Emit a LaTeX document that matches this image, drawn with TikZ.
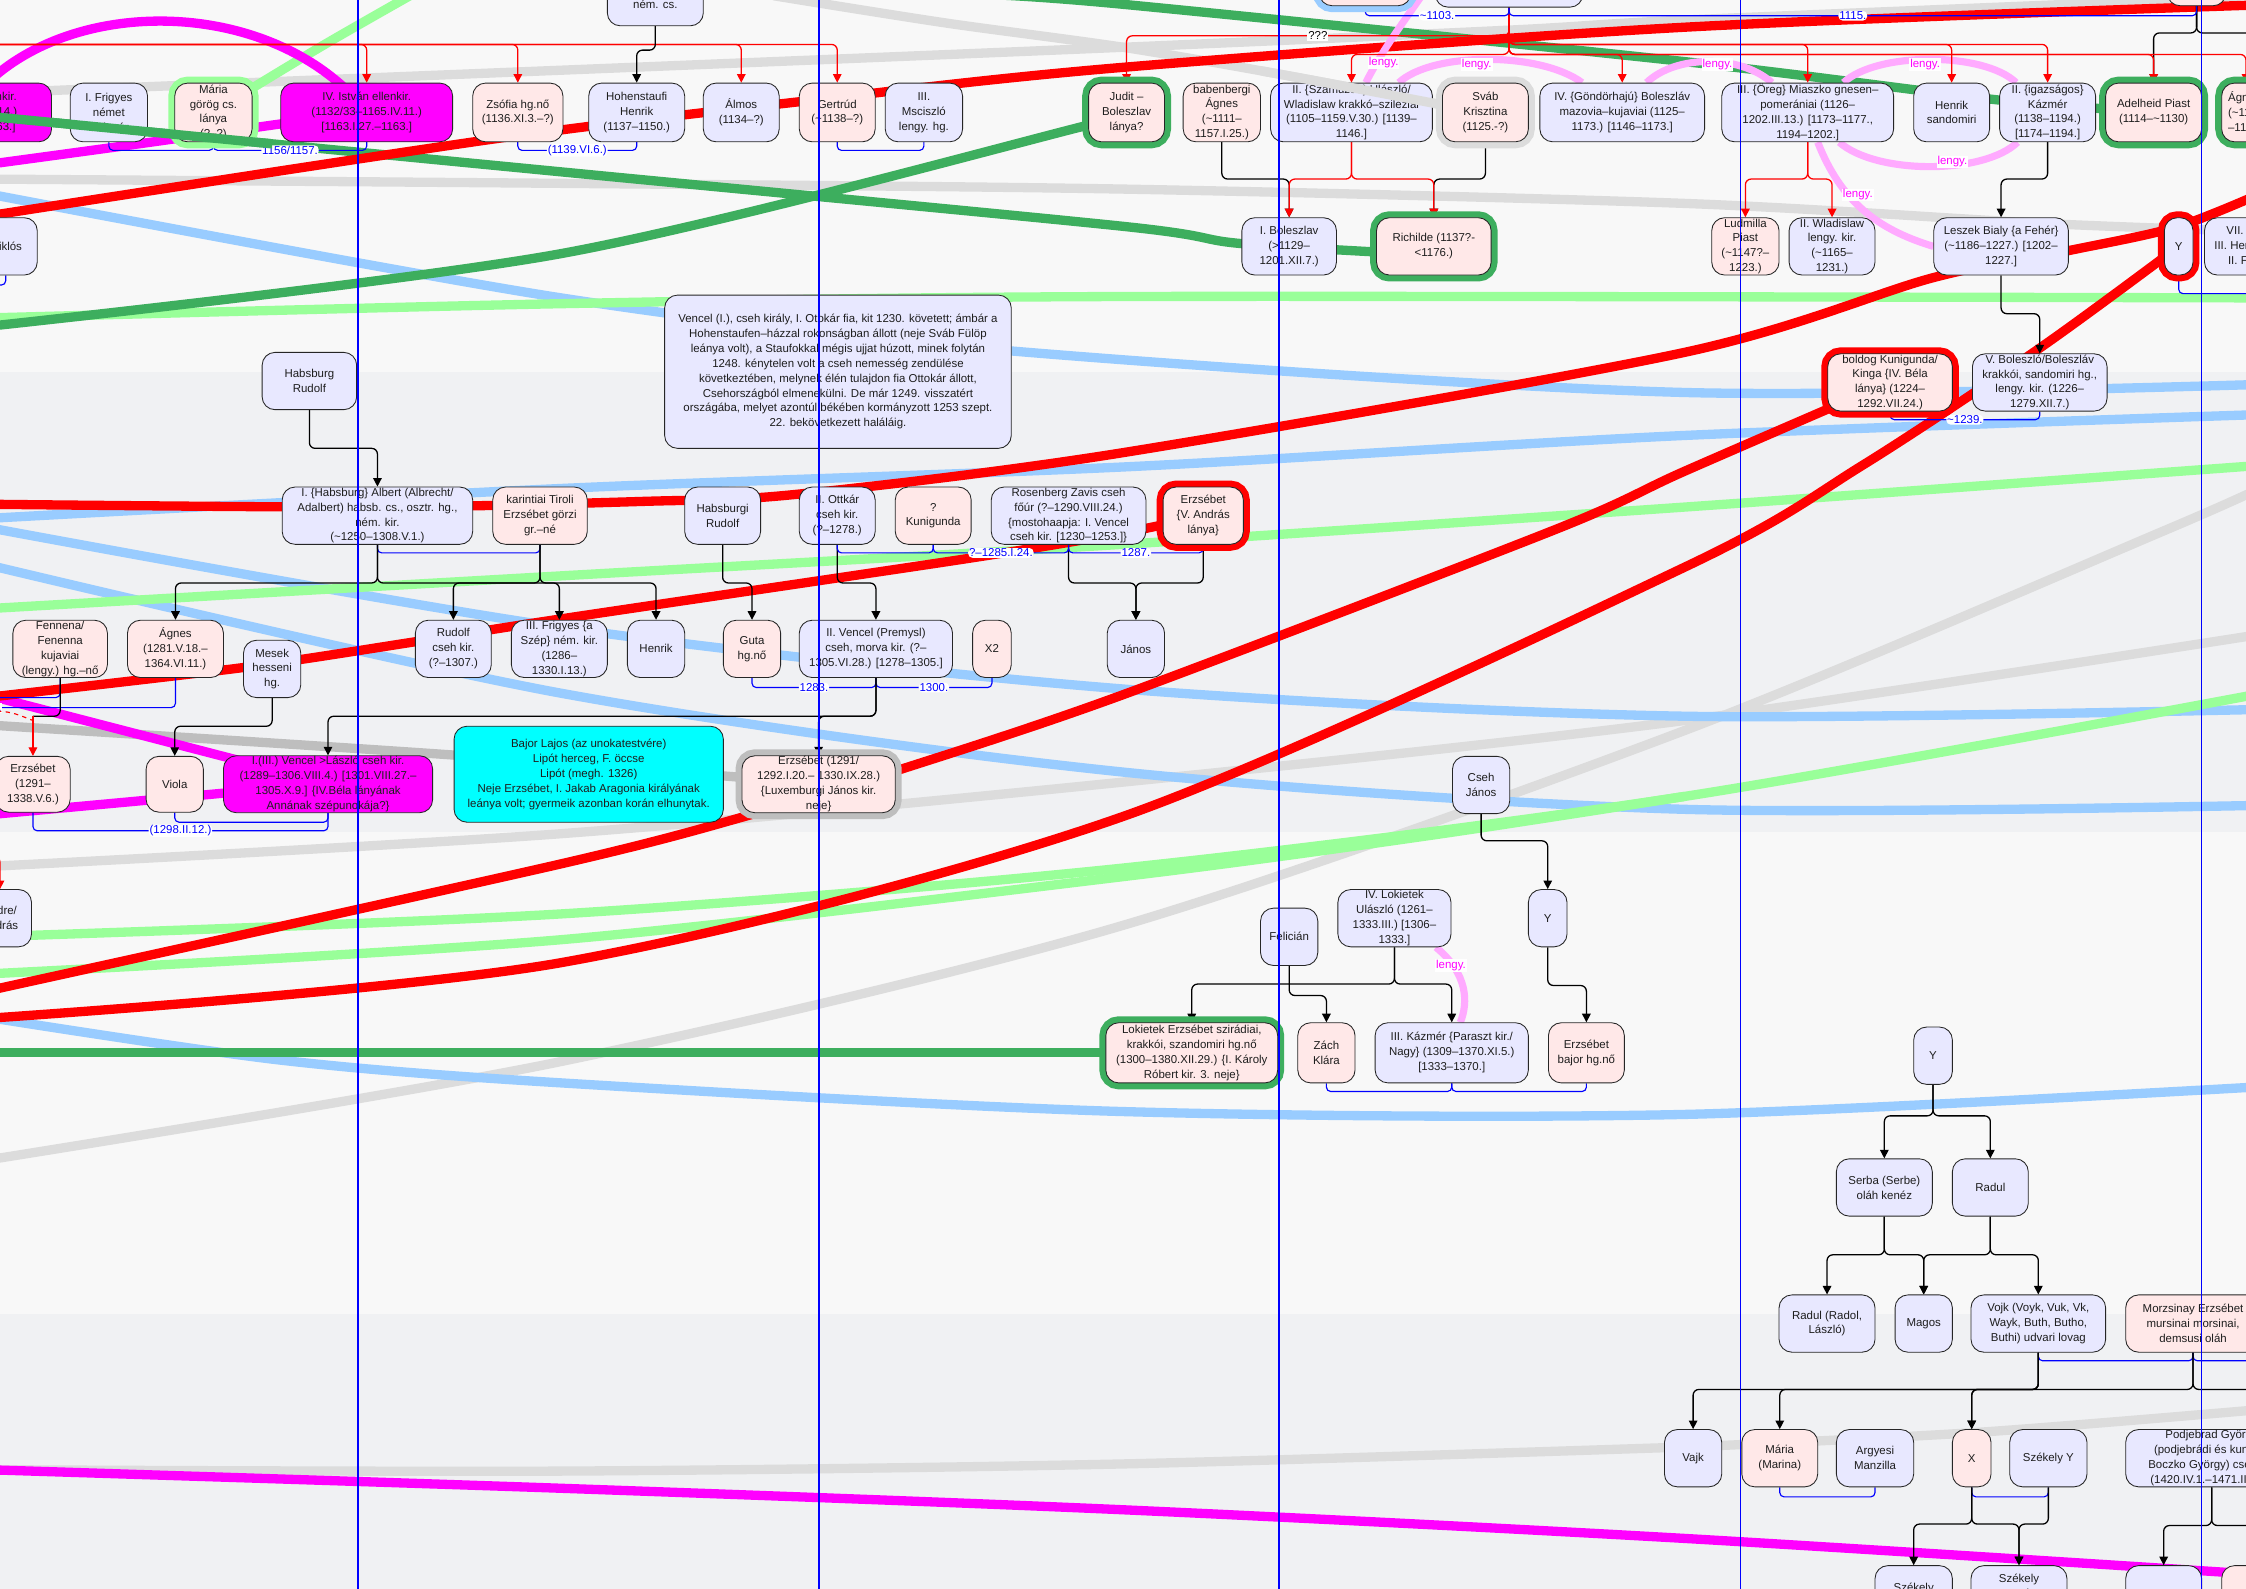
\documentclass[tikz,border=0pt]{standalone}
\usepackage{fontspec}
\setmainfont{Liberation Sans}
\usetikzlibrary{arrows.meta,calc}
\pgfdeclarelayer{bg}\pgfdeclarelayer{thick}\pgfdeclarelayer{conn}\pgfdeclarelayer{top}
\pgfsetlayers{bg,thick,conn,main,top}
\definecolor{lavc}{HTML}{E8E8FF}
\definecolor{pinkc}{HTML}{FFE8E8}
\definecolor{magc}{HTML}{FF00FF}
\definecolor{cyanc}{HTML}{00FFFF}
\definecolor{tgray}{HTML}{DCDCDC}
\definecolor{dgray}{HTML}{BEBEBE}
\definecolor{lblue}{HTML}{99CCFF}
\definecolor{lgreen}{HTML}{99FF99}
\definecolor{dgreen}{HTML}{3DAE5E}
\definecolor{lpink}{HTML}{FFAAFF}
\definecolor{bandA}{HTML}{F8F8F8}
\definecolor{bandB}{HTML}{F0F1F3}
\definecolor{txt}{HTML}{1E1E1E}
\newcommand\tld{\textasciitilde}
\newcommand\gbox[7]{\node[#1, minimum width={(#4)-(#3)}, minimum height={(#6)-(#5)}] (#2) at ({((#3)+(#4))/2},{((#5)+(#6))/2}) {#7};}
\tikzset{
 nd/.style={draw=black!85, line width=0.6pt, rounded corners=9pt, align=center, inner sep=0.5pt, text=txt, font=\fontsize{8}{10.4}\selectfont},
 lav/.style={nd, fill=lavc},
 pnk/.style={nd, fill=pinkc},
 mgt/.style={nd, fill=magc},
 cyn/.style={nd, fill=cyanc},
 hl/.style={preaction={draw=#1, line width=9pt}},
 blk/.style={draw=black, line width=0.9pt, rounded corners=4pt, -{Triangle[length=6pt,width=6pt]}},
 blkn/.style={draw=black, line width=0.9pt, rounded corners=4pt},
 redc/.style={draw=red, line width=0.9pt, rounded corners=4pt, -{Triangle[length=6pt,width=6pt]}},
 marr/.style={draw=blue, line width=0.8pt, rounded corners=3pt},
 lbl/.style={fill=white, text=blue, inner sep=0.6pt, font=\fontsize{8}{9}\selectfont},
 lgl/.style={fill=white, text=magc, inner sep=0.6pt, font=\fontsize{8}{9}\selectfont},
 qlbl/.style={fill=white, text=black, inner sep=0.6pt, font=\fontsize{8}{9}\selectfont},
 tk/.style={line width=6.5pt, line cap=butt},
 pk/.style={draw=lpink, line width=5pt},
 vline/.style={draw=blue, line width=1.2pt},
}
\begin{document}
\begin{tikzpicture}[x=1pt,y=-1pt]
\useasboundingbox (0,0) rectangle (1568,1109);
\begin{pgfonlayer}{bg}
\fill[bandA] (-5,-5) rectangle (1575,260);
\fill[bandB] (-5,260) rectangle (1575,581);
\fill[bandA] (-5,581) rectangle (1575,917);
\fill[bandB] (-5,917) rectangle (1575,1115);
\end{pgfonlayer}

% ---------------- nodes: top partial
\gbox{lav}{nem}{424}{491}{-22}{18}{III. Konrád\\ném. cs.}
\gbox{pnk,hl=lblue}{t1}{921}{985}{-36}{4}{}
\gbox{lav}{t2}{1002}{1105}{-36}{5}{}
\gbox{pnk}{t3}{1513}{1554}{-36}{4}{}
% top row
\gbox{mgt}{l0}{-74}{36}{58}{99}{II. László ellenkir.\\(1131–1163.I.14.)\\{}[1162.VII.–1163.]}
\gbox{lav}{frig}{49}{103}{58}{99}{I. Frigyes\\német\\császár}
\gbox{pnk,hl=lgreen}{mari}{122}{176}{58}{99}{Mária\\görög cs.\\lánya\\(?–?)}
\gbox{mgt}{ist}{196}{316}{58}{99}{IV. István ellenkir.\\(1132/33–1165.IV.11.)\\{}[1163.I.27.–1163.]}
\gbox{pnk}{zso}{330}{393}{58}{99}{Zsófia hg.nő\\(1136.XI.3.–?)}
\gbox{lav}{hhen}{411}{478}{58}{99}{Hohenstaufi\\Henrik\\(1137–1150.)}
\gbox{lav}{alm}{491}{544}{58}{99}{Álmos\\(1134–?)}
\gbox{pnk}{ger}{558}{611}{58}{99}{Gertrúd\\(\tld1138–?)}
\gbox{lav}{msc}{618}{672}{58}{99}{III.\\Msciszló\\lengy. hg.}
\gbox{pnk,hl=dgreen}{jud}{760}{813}{58}{99}{Judit –\\Boleszlav\\lánya?}
\gbox{pnk}{bab}{826}{880}{58}{99}{babenbergi\\Ágnes\\(\tld1111–\\1157.I.25.)}
\gbox{lav}{sza}{887}{1000}{58}{99}{II. \{Szamuzott\} Ulászló/\\Wladislaw krakkó–sziléziai\\(1105–1159.V.30.) [1139–\\1146.]}
\gbox{pnk,hl=tgray}{svab}{1007}{1067}{58}{99}{Sváb\\Krisztina\\(1125.-?)}
\gbox{lav}{gon}{1075}{1190}{58}{99}{IV. \{Göndörhajú\} Boleszláv\\mazovia–kujaviai (1125–\\1173.) [1146–1173.]}
\gbox{lav}{mia}{1202}{1322}{58}{99}{III. \{Öreg\} Miaszko gnesen–\\pomerániai (1126–\\1202.III.13.) [1173–1177.,\\1194–1202.]}
\gbox{lav}{hens}{1336}{1389}{58}{99}{Henrik\\sandomiri}
\gbox{lav}{kaz}{1396}{1463}{58}{99}{II. \{igazságos\}\\Kázmér\\(1138–1194.)\\{}[1174–1194.]}
\gbox{pnk,hl=dgreen}{adel}{1470}{1537}{58}{99}{Adelheid Piast\\(1114–\tld1130)}
\gbox{pnk,hl=dgreen,text width=80pt,align=left}{ag}{1551}{1640}{58}{99}{Ágnes Piast\\(\tld1137–\\–1182.)}
% row 2
\gbox{lav}{mik}{-18}{26}{152}{192}{Miklós}
\gbox{lav}{ibol}{867}{933}{152}{192}{I. Boleszlav\\(>1129–\\1201.XII.7.)}
\gbox{pnk,hl=dgreen}{ric}{961}{1041}{152}{192}{Richilde (1137?-\\<1176.)}
\gbox{pnk}{lud}{1195}{1242}{152}{192}{Ludmilla\\Piast\\(\tld1147?–\\1223.)}
\gbox{lav}{wla}{1249}{1309}{152}{192}{II. Wladislaw\\lengy. kir.\\(\tld1165–\\1231.)}
\gbox{lav}{les}{1350}{1444}{152}{192}{Leszek Bialy \{a Fehér\}\\(\tld1186–1227.) [1202–\\1227.]}
\gbox{lav,hl=red}{yr}{1511}{1531}{152}{192}{Y}
\gbox{lav}{vii}{1539}{1607}{152}{192}{VII. Henrik\\III. Henrik ném.\\II. Frigyes}
% row 3
\gbox{lav}{hru}{183}{249}{246}{286}{Habsburg\\Rudolf}
\gbox{lav}{vtx}{464}{706}{206}{313}{Vencel (I.), cseh király, I. Otokár fia, kit 1230. követett; ámbár a\\Hohenstaufen–házzal rokonságban állott (neje Sváb Fülöp\\leánya volt), a Staufokkal mégis ujjat húzott, minek folytán\\1248. kénytelen volt a cseh nemesség zendülése\\következtében, melynek élén tulajdon fia Ottokár állott,\\Csehországból elmenekülni. De már 1249. visszatért\\országába, melyet azontúl békében kormányzott 1253 szept.\\22. bekövetkezett haláláig.}
\gbox{pnk,hl=red}{kun}{1276}{1363}{247}{287}{boldog Kunigunda/\\Kinga \{IV. Béla\\lánya\} (1224–\\1292.VII.24.)}
\gbox{lav}{vbo}{1377}{1471}{247}{287}{V. Boleszló/Boleszláv\\krakkói, sandomiri hg.,\\lengy. kir. (1226–\\1279.XII.7.)}
% row 4
\gbox{lav}{alb}{197}{330}{340}{380}{I. \{Habsburg\} Albert (Albrecht/\\Adalbert) habsb. cs., osztr. hg.,\\ném. kir.\\(\tld1250–1308.V.1.)}
\gbox{pnk}{kar}{344}{410}{340}{380}{karintiai Tiroli\\Erzsébet görzi\\gr.–né}
\gbox{lav}{hbr}{478}{531}{340}{380}{Habsburgi\\Rudolf}
\gbox{lav}{ott}{558}{611}{340}{380}{II. Ottkár\\cseh kir.\\(?–1278.)}
\gbox{pnk}{kng}{625}{678}{340}{380}{?\\Kunigunda}
\gbox{lav}{ros}{692}{800}{340}{380}{Rosenberg Zavis cseh\\főúr (?–1290.VIII.24.)\\\{mostohaapja: I. Vencel\\cseh kir. [1230–1253.]\}}
\gbox{pnk,hl=red}{eva}{812}{868}{340}{380}{Erzsébet\\\{V. András\\lánya\}}
% row 5
\gbox{pnk}{fen}{9}{75}{433}{473}{Fennena/\\Fenenna\\kujaviai\\(lengy.) hg.–nő}
\gbox{pnk}{agn}{89}{156}{433}{473}{Ágnes\\(1281.V.18.–\\1364.VI.11.)}
\gbox{lav}{mes}{170}{210}{447}{487}{Mesek\\hesseni\\hg.}
\gbox{lav}{rud}{290}{343}{433}{473}{Rudolf\\cseh kir.\\(?–1307.)}
\gbox{lav}{fri}{357}{424}{433}{473}{III. Frigyes \{a\\Szép\} ném. kir.\\(1286–\\1330.I.13.)}
\gbox{lav}{hen}{438}{478}{433}{473}{Henrik}
\gbox{pnk}{gut}{505}{545}{433}{473}{Guta\\hg.nő}
\gbox{lav}{ven}{558}{665}{433}{473}{II. Vencel (Premysl)\\cseh, morva kir. (?–\\1305.VI.28.) [1278–1305.]}
\gbox{pnk}{x2}{679}{706}{433}{473}{X2}
\gbox{lav}{jan}{773}{813}{433}{473}{János}
% row 6
\gbox{pnk}{erz}{-3}{49}{528}{567}{Erzsébet\\(1291–\\1338.V.6.)}
\gbox{pnk}{vio}{102}{142}{528}{567}{Viola}
\gbox{mgt}{vla}{156}{302}{528}{567}{I.(III.) Vencel >László cseh kir.\\(1289–1306.VIII.4.) [1301.VIII.27.–\\1305.X.9.] \{IV.Béla lányának\\Annának szépunokája?\}}
\gbox{cyn}{baj}{317}{505}{507}{574}{Bajor Lajos (az unokatestvére)\\Lipót herceg, F. öccse\\Lipót (megh. 1326)\\Neje Erzsébet, I. Jakab Aragonia királyának\\leánya volt; gyermeik azonban korán elhunytak.}
\gbox{pnk,hl=dgray}{elu}{518}{625}{528}{567}{Erzsébet (1291/\\1292.I.20.– 1330.IX.28.)\\\{Luxemburgi János kir.\\neje\}}
\gbox{lav}{csj}{1014}{1054}{528}{568}{Cseh\\János}
\gbox{lav}{end}{-22}{22}{621}{661}{Endre/\\András}
% row 7
\gbox{lav}{fel}{880}{920}{634}{674}{Felicián}
\gbox{lav}{lok}{934}{1013}{621}{661}{IV. Lokietek\\Ulászló (1261–\\1333.III.) [1306–\\1333.]}
\gbox{lav}{yc}{1067}{1094}{621}{661}{Y}
% row 8
\gbox{pnk,hl=dgreen}{lke}{772}{892}{714}{756}{Lokietek Erzsébet szirádiai,\\krakkói, szandomiri hg.nő\\(1300–1380.XII.29.) \{I. Károly\\Róbert kir. 3. neje\}}
\gbox{pnk}{zak}{906}{946}{714}{756}{Zách\\Klára}
\gbox{lav}{kzm}{960}{1067}{714}{756}{III. Kázmér \{Paraszt kir./\\Nagy\} (1309–1370.XI.5.)\\{}[1333–1370.]}
\gbox{pnk}{ebj}{1081}{1134}{714}{756}{Erzsébet\\bajor hg.nő}
% bottom right
\gbox{lav}{yy}{1336}{1363}{717}{757}{Y}
\gbox{lav}{ser}{1282}{1349}{809}{849}{Serba (Serbe)\\oláh kenéz}
\gbox{lav}{rad}{1363}{1416}{809}{849}{Radul}
\gbox{lav}{rdl}{1242}{1309}{904}{944}{Radul (Radol,\\László)}
\gbox{lav}{magos}{1323}{1363}{904}{944}{Magos}
\gbox{lav}{voj}{1376}{1470}{904}{944}{Vojk (Voyk, Vuk, Vk,\\Wayk, Buth, Butho,\\Buthi) udvari lovag}
\gbox{pnk}{mor}{1484}{1578}{904}{944}{Morzsinay Erzsébet\\mursinai morsinai,\\demsusi oláh}
\gbox{lav}{vaj}{1162}{1202}{998}{1038}{Vajk}
\gbox{pnk}{mri}{1216}{1269}{998}{1038}{Mária\\(Marina)}
\gbox{lav}{arg}{1282}{1336}{998}{1038}{Argyesi\\Manzilla}
\gbox{pnk}{xx}{1363}{1390}{998}{1038}{X}
\gbox{lav}{szy}{1403}{1457}{998}{1038}{Székely Y}
\gbox{lav}{pod}{1484}{1604}{998}{1038}{Podjebrad György\\(podjebrádi és kunstáti\\Boczko György) cseh kir.\\(1420.IV.1.–1471.III.22.)}
\gbox{lav}{sz1}{1309}{1363}{1093}{1133}{Székely\\János}
\gbox{lav}{sz2}{1376}{1443}{1093}{1133}{Székely\\Tamás\\(?)}
\gbox{lav}{vik}{1484}{1537}{1093}{1133}{Viktorin}
\gbox{pnk}{pk2}{1551}{1610}{1093}{1133}{}

% ---------------- thick lines
\begin{pgfonlayer}{thick}
\draw[tk,tgray] plot[smooth] coordinates {(-10,65) (392,49) (784,33) (1054,21) (1176,14) (1514,0) (1600,-6)};
\draw[tk,tgray] plot[smooth] coordinates {(540,-3) (660,16) (784,33) (900,53) (1037,79)};
\draw[tk,tgray] plot[smooth] coordinates {(-10,125) (392,128) (784,132) (1176,142) (1427,156) (1590,162)};
\draw[tk,dgray] plot[smooth] coordinates {(-10,506) (315,527) (571,547)};
\draw[tk,tgray] plot[smooth] coordinates {(-10,605) (392,582) (784,546) (1176,503) (1590,441)};
\draw[tk,tgray] plot[smooth] coordinates {(-10,810) (392,741) (784,646) (1176,510) (1512,370) (1590,335)};
\draw[tk,tgray] plot[smooth] coordinates {(-10,1026) (392,1027) (784,1022) (1182,1010)};
\draw[tk,tgray] plot[smooth] coordinates {(1182,1010) (1380,1000) (1590,983)};
% light blue
\draw[tk,lblue] plot[smooth] coordinates {(-10,135) (392,208) (706,245) (1176,274) (1590,268)};
\draw[tk,lblue] plot[smooth] coordinates {(-10,362) (392,341) (784,326) (1176,304) (1590,289)};
\draw[tk,lblue] plot[smooth] coordinates {(-10,368) (392,438) (784,481) (1176,500) (1590,495)};
\draw[tk,lblue] plot[smooth] coordinates {(-10,394) (392,484) (784,539) (1176,565) (1590,562)};
\draw[tk,lblue] plot[smooth] coordinates {(-10,710) (195,740) (392,756) (784,776) (1176,778) (1590,758)};
% light green
\draw[tk,lgreen] plot[smooth] coordinates {(295,-8) (225,32) (149,78)};
\draw[tk,lgreen] plot[smooth] coordinates {(-10,222) (392,212) (784,207) (1590,208)};
\draw[tk,lgreen] plot[smooth] coordinates {(-10,425) (392,402) (784,380) (1176,354) (1590,324)};
\draw[tk,lgreen] plot[smooth] coordinates {(-10,654) (392,638) (784,606) (1176,556) (1590,482)};
\draw[tk,lgreen] plot[smooth] coordinates {(-10,680) (392,656) (784,612) (1000,583) (1176,556)};
% dark green
\draw[tk,dgreen] plot[smooth] coordinates {(684,-4) (784,3) (1176,43) (1397,70) (1503,78)};
\draw[tk,dgreen] plot[smooth] coordinates {(-10,81) (392,120) (784,158) (866,170) (1001,178)};
\draw[tk,dgreen] plot[smooth] coordinates {(-10,228) (392,177) (757,88) (786,78)};
\draw[tk,dgreen] (-10,735) -- (832,735);
% magenta
\draw[tk,magc] (-20,70) .. controls (40,-5) and (190,-5) .. (256,78);
\draw[tk,magc] plot[smooth] coordinates {(-10,115) (100,100) (256,78)};
\draw[tk,magc] (-10,485) -- (229,547);
\draw[tk,magc] (-10,569) -- (229,547);
\draw[tk,magc] plot[smooth] coordinates {(-10,1026) (392,1039) (784,1054) (1176,1074) (1590,1100)};
% red
\draw[tk,red] plot[smooth] coordinates {(-10,151) (345,97) (567,70) (784,47) (1176,19) (1590,3)};
\draw[tk,red] plot[smooth] coordinates {(-10,352) (263,354) (450,350) (557,345) (784,316) (1176,246) (1349,194) (1444,175) (1521,158) (1590,130)};
\draw[tk,red] plot[smooth] coordinates {(-10,487) (170,466) (290,448) (392,432) (675,390) (784,372) (840,360)};
\draw[tk,red] plot[smooth] coordinates {(-10,692) (392,603) (527,568) (626,538) (784,485) (1085,370) (1176,329) (1319,267)};
\draw[tk,red] plot[smooth] coordinates {(-10,711) (392,672) (784,570) (1176,396) (1300,325) (1424,243) (1521,172)};
% pink "lengy."
\draw[pk] ([xshift=10pt]sza.north) .. controls (965,35) and (980,15) .. (996,-8);
\draw[pk] ([xshift=33pt]sza.north) .. controls (1000,36) and (1075,36) .. ([xshift=-28pt]gon.north);
\draw[pk] ([xshift=17pt]gon.north) .. controls (1170,38) and (1215,38) .. ([xshift=-25pt]mia.north);
\draw[pk] ([xshift=25pt]mia.north) .. controls (1310,36) and (1385,36) .. ([xshift=-22pt]kaz.north);
\draw[pk] ([xshift=22pt]mia.south) .. controls (1310,122) and (1385,122) .. ([xshift=-21pt]kaz.south);
\draw[pk] ([xshift=7pt]mia.south) .. controls (1285,140) and (1310,160) .. (les.west);
\draw[pk] ([xshift=29pt]lok.south) .. controls (1025,680) and (1025,700) .. ([xshift=6pt]kzm.north);
\node[lgl] (lg1) at (966,44) {lengy.};
\node[lgl] (lg2) at (1031,45) {lengy.};
\node[lgl] (lg3) at (1199,45) {lengy.};
\node[lgl] (lg4) at (1344,45) {lengy.};
\node[lgl] (lg5) at (1363,113) {lengy.};
\node[lgl] (lg6) at (1297,136) {lengy.};
\node[lgl] (lg7) at (1013,674) {lengy.};
\end{pgfonlayer}

% ---------------- connectors
\begin{pgfonlayer}{conn}
\coordinate (rA) at (-5,31);
\draw[redc] (rA) -| (ist.north);
\draw[redc] (rA) -| (zso.north);
\draw[redc] (rA) -| (alm.north);
\draw[redc] (rA) -| (ger.north);
\draw[blk] (nem.south) -- (nem.south |- 0,35) -| (hhen.north);
\draw[blk] (t3.south) -- (t3.south |- 0,23) -| (adel.north);
\draw[blkn] (t3.south) -- (t3.south |- 0,23) -- (1580,23);
\draw[redc] (t2.south) |- (jud.north |- 0,25) -- (jud.north);
\node[qlbl] (qm) at (920,25) {???};
\draw[redc] (t2.south) |- (mia.north |- 0,31) -- (mia.north);
\draw[redc] (t2.south) |- (hens.north |- 0,31) -- (hens.north);
\draw[redc] (t2.south) |- (kaz.north |- 0,31) -- (kaz.north);
\draw[redc] (t2.south) |- (sza.north |- 0,38) -- (sza.north);
\draw[redc] (t2.south) |- (gon.north |- 0,38) -- (gon.north);
\draw[redc] (t2.south) |- (adel.north |- 0,38) -- (adel.north);
\draw[redc] (t2.south) |- (1568,38) -- (ag.north -| 1568,0);
\draw[marr] (t1.south) -- (t1.south |- 0,11) -- node[lbl]{\tld1103.} (t2.south |- 0,11) -- (t2.south);
\draw[marr] (t2.south) -- (t2.south |- 0,11) -- node[lbl]{1115.} (t3.south |- 0,11) -- (t3.south);
\draw[marr] (frig.south) -- (frig.south |- 0,105) -- (mari.south |- 0,105) -- (mari.south);
\draw[marr] (mari.south) -- (mari.south |- 0,105) -- node[lbl]{1156/1157.} (ist.south |- 0,105) -- (ist.south);
\draw[marr] (zso.south) -- (zso.south |- 0,105) -- node[lbl]{(1139.VI.6.)} (hhen.south |- 0,105) -- (hhen.south);
\draw[marr] (ger.south) -- (ger.south |- 0,105) -- (msc.south |- 0,105) -- (msc.south);
% row 2
\draw[blk] (bab.south) -- (bab.south |- 0,125) -| (ibol.north);
\draw[blk] (svab.south) -- (svab.south |- 0,125) -| (ric.north);
\draw[redc] (sza.south) -- (sza.south |- 0,125) -| (ibol.north);
\draw[redc] (sza.south) -- (sza.south |- 0,125) -| (ric.north);
\draw[redc] (mia.south) -- (mia.south |- 0,125) -| (lud.north);
\draw[redc] (mia.south) -- (mia.south |- 0,125) -| (wla.north);
\draw[blk] (kaz.south) -- (kaz.south |- 0,125) -| (les.north);
\draw[blk] (les.south) -- (les.south |- 0,219) -| (vbo.north);
\draw[marr] (kun.south) -- (kun.south |- 0,293) -- node[lbl]{\tld1239.} (vbo.south |- 0,293) -- (vbo.south);
\draw[marr] (yr.south) |- (1580,205);
\draw[marr] (mik.south) |- (-12,199);
% middle
\draw[blk] (hru.south) -- (hru.south |- 0,313) -| (alb.north);
\draw[marr] (alb.south) -- (alb.south |- 0,386) -- (kar.south |- 0,386) -- (kar.south);
\draw[blk] (alb.south) -- (alb.south |- 0,407) -| (agn.north);
\draw[blk] (alb.south) -- (alb.south |- 0,407) -| (fri.north);
\draw[blk] (kar.south) -- (kar.south |- 0,407) -| (rud.north);
\draw[blk] (kar.south) -- (kar.south |- 0,407) -| (hen.north);
\draw[blk] (hbr.south) -- (hbr.south |- 0,407) -| (gut.north);
\draw[blk] (ott.south) -- (ott.south |- 0,407) -| (ven.north);
\draw[blk] (ros.south) -- (ros.south |- 0,407) -| (jan.north);
\draw[blk] (eva.south) -- (eva.south |- 0,407) -| (jan.north);
\draw[marr] (ott.south) -- (ott.south |- 0,386) -- (kng.south |- 0,386) -- (kng.south);
\draw[marr] (kng.south) -- (kng.south |- 0,386) -- node[lbl]{?–1285.I.24.} (ros.south |- 0,386) -- (ros.south);
\draw[marr] (ros.south) -- (ros.south |- 0,386) -- node[lbl]{1287.} (eva.south |- 0,386) -- (eva.south);
% row 5
\coordinate (fenL) at (-12,487);
\coordinate (agnL) at (-12,494);
\draw[marr] (fen.south) |- (fenL);
\draw[marr] (agn.south) |- (agnL);
\node[lbl] (l1296) at (-9,494) {1296.};
\draw[blkn] (fen.south) -- (fen.south |- 0,500) -- (erz.north |- 0,500);
\draw[redc] (erz.north |- 0,500) -- (erz.north);
\draw[red, dashed, line width=0.8pt] (-8,496) .. controls (8,497) .. (erz.north |- 0,503);
\draw[blk] (mes.south) -- (mes.south |- 0,507) -| (vio.north);
\draw[marr] (gut.south) -- (gut.south |- 0,480) -- node[lbl]{1283.} (ven.south |- 0,480) -- (ven.south);
\draw[marr] (ven.south) -- (ven.south |- 0,480) -- node[lbl]{1300.} (x2.south |- 0,480) -- (x2.south);
\draw[blk] (ven.south) -- (ven.south |- 0,500) -| (vla.north);
\draw[blk] (ven.south) -- (ven.south |- 0,500) -| (elu.north);
% row 6
\draw[marr] (vio.south) -- (vio.south |- 0,574) -- (vla.south |- 0,574) -- (vla.south);
\draw[marr] (erz.south) -- (erz.south |- 0,580) -- node[lbl]{(1298.II.12.)} (vla.south |- 0,580) -- (vla.south);
\coordinate (endS) at (-12,598);
\draw[redc] (endS) -| (end.north);
\draw[blk] (csj.south) -- (csj.south |- 0,587) -| (yc.north);
% row 7
\draw[blk] (lok.south) -- (lok.south |- 0,687) -| (lke.north);
\draw[blk] (lok.south) -- (lok.south |- 0,687) -| (kzm.north);
\draw[blk] (fel.south) -- (fel.south |- 0,695) -| (zak.north);
\draw[blk] (yc.south) -- (yc.south |- 0,688) -| (ebj.north);
\draw[marr] (zak.south) -- (zak.south |- 0,762) -- (kzm.south |- 0,762) -- (kzm.south);
\draw[marr] (kzm.south) -- (kzm.south |- 0,762) -- (ebj.south |- 0,762) -- (ebj.south);
% bottom right
\draw[blk] (yy.south) -- (yy.south |- 0,779) -| (ser.north);
\draw[blk] (yy.south) -- (yy.south |- 0,779) -| (rad.north);
\draw[blk] (ser.south) -- (ser.south |- 0,876) -| (rdl.north);
\draw[blk] (ser.south) -- (ser.south |- 0,876) -| (magos.north);
\draw[blk] (rad.south) -- (rad.south |- 0,876) -| (voj.north);
\draw[blk] (rad.south) -- (rad.south |- 0,876) -| (magos.north);
\draw[marr] (voj.south) -- (voj.south |- 0,950) -- (mor.south |- 0,950) -- (mor.south);
\draw[marr] (mor.south) -- (mor.south |- 0,950) -- (1580,950);
\draw[blk] (voj.south) -- (voj.south |- 0,970) -| (vaj.north);
\draw[blk] (voj.south) -- (voj.south |- 0,970) -| (mri.north);
\draw[blk] (voj.south) -- (voj.south |- 0,970) -| (xx.north);
\draw[blk] (mor.south) -- (mor.south |- 0,970) -| (xx.north);
\draw[blkn] (mor.south) -- (mor.south |- 0,970) -- (1580,970);
\draw[marr] (mri.south) -- (mri.south |- 0,1045) -- (arg.south |- 0,1045) -- (arg.south);
\draw[marr] (xx.south) -- (xx.south |- 0,1045) -- (szy.south |- 0,1045) -- (szy.south);
\draw[blk] (xx.south) -- (xx.south |- 0,1064) -| (sz1.north);
\draw[blk] (xx.south) -- (xx.south |- 0,1064) -| (sz2.north);
\draw[blk] (szy.south) -- (szy.south |- 0,1064) -| (sz2.north);
\draw[blk] (pod.south) -- (pod.south |- 0,1065) -| (vik.north);
\draw[blkn] (pod.south) -- (pod.south |- 0,1065) -- (1580,1065);
\end{pgfonlayer}

% ---------------- overlays
\begin{pgfonlayer}{top}
\begin{scope}
\clip (-5,60) rectangle (190,125);
\draw[tk,dgreen] plot[smooth] coordinates {(-10,81) (392,120) (784,158) (866,170) (1001,178)};
\end{scope}
\begin{scope}
\clip (880,40) rectangle (1003,100);
\draw[tk,tgray] plot[smooth] coordinates {(540,-3) (660,16) (784,33) (900,53) (1037,79)};
\end{scope}
\foreach \vx in {250,572,893,1215,1537} {\draw[vline] (\vx,-5) -- (\vx,1115);}
\end{pgfonlayer}
\end{tikzpicture}
\end{document}
